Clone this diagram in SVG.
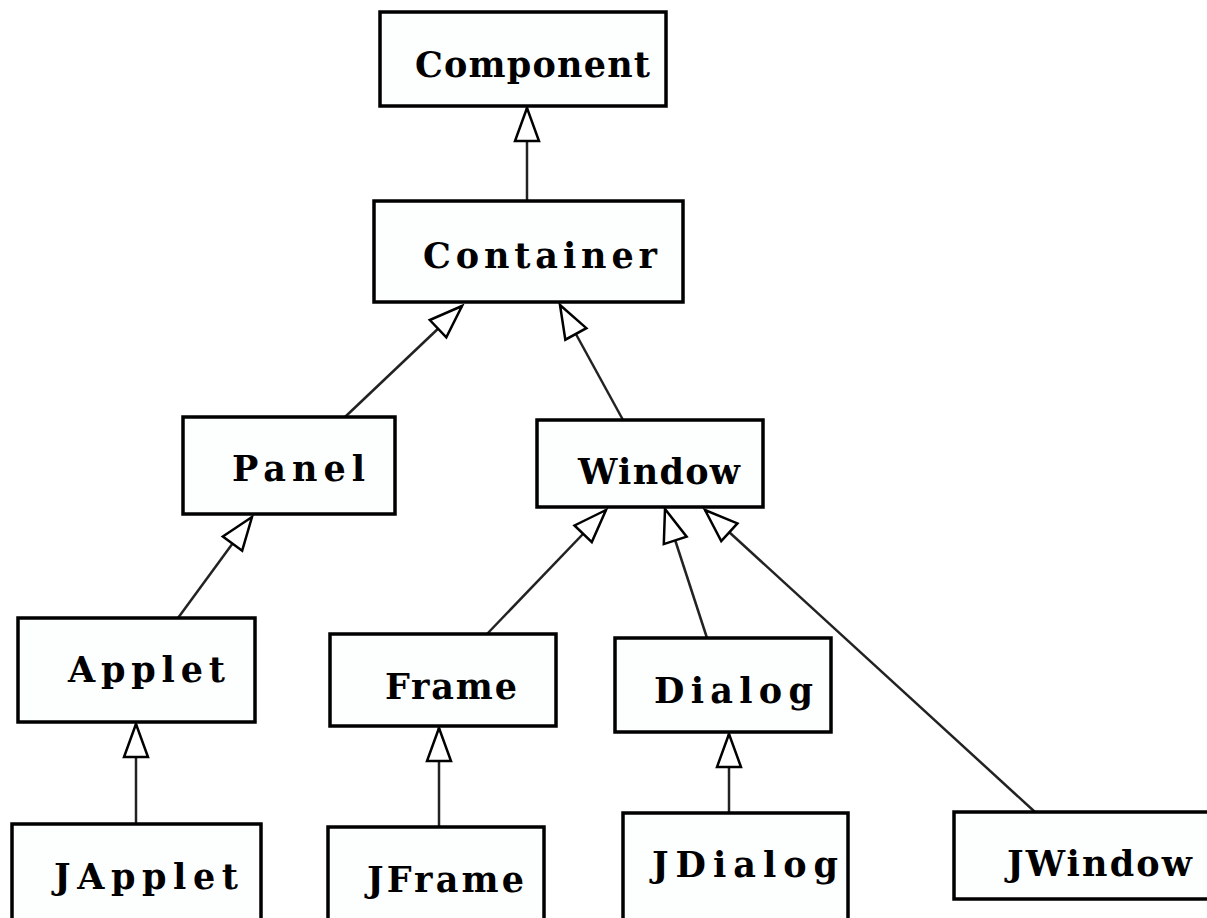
<svg xmlns="http://www.w3.org/2000/svg" width="1207" height="918" viewBox="0 0 1207 918">
<style>
.box{fill:#fdfefe;stroke:#000;stroke-width:3.5}
.lbl{font-family:"DejaVu Serif","Liberation Serif",serif;font-weight:bold;font-size:35px;fill:#000}
.edge{stroke:#222;stroke-width:2.5;fill:none;marker-end:url(#tri)}
</style>
<defs>
<marker id="tri" viewBox="0 0 38 30" markerWidth="38" markerHeight="30" refX="35" refY="15" orient="auto" markerUnits="userSpaceOnUse">
<path d="M35,15 L2,3 L2,27 Z" fill="#fff" stroke="#000" stroke-width="2.5"/>
</marker>
</defs>
<rect width="1207" height="918" fill="#fff"/>
<g id="connectors">
<line class="edge" x1="527" y1="201" x2="527" y2="108"/>
<line class="edge" x1="345" y1="417" x2="462" y2="306"/>
<line class="edge" x1="623" y1="420" x2="560" y2="305"/>
<line class="edge" x1="178" y1="618" x2="252" y2="517"/>
<line class="edge" x1="487" y1="634" x2="606" y2="510"/>
<line class="edge" x1="707" y1="638" x2="665" y2="509"/>
<line class="edge" x1="1035" y1="812" x2="705" y2="510"/>
<line class="edge" x1="136" y1="824" x2="136" y2="724"/>
<line class="edge" x1="439" y1="827" x2="439" y2="728"/>
<line class="edge" x1="729" y1="813" x2="729" y2="734"/>
</g>
<g id="Component"><rect class="box" x="380" y="12" width="286" height="94"/><text class="lbl" x="415" y="77" textLength="235" lengthAdjust="spacing">Component</text></g>
<g id="Container"><rect class="box" x="374" y="201" width="309" height="101"/><text class="lbl" x="423" y="268" textLength="234" lengthAdjust="spacing">Container</text></g>
<g id="Panel"><rect class="box" x="183" y="417" width="212" height="97"/><text class="lbl" x="232" y="481" textLength="133" lengthAdjust="spacing">Panel</text></g>
<g id="Window"><rect class="box" x="537" y="420" width="226" height="87"/><text class="lbl" x="578" y="484" textLength="162" lengthAdjust="spacing">Window</text></g>
<g id="Applet"><rect class="box" x="18" y="618" width="237" height="104"/><text class="lbl" x="68" y="682" textLength="157" lengthAdjust="spacing">Applet</text></g>
<g id="Frame"><rect class="box" x="330" y="634" width="226" height="92"/><text class="lbl" x="385" y="699" textLength="132" lengthAdjust="spacing">Frame</text></g>
<g id="Dialog"><rect class="box" x="615" y="638" width="216" height="94"/><text class="lbl" x="654" y="703" textLength="159" lengthAdjust="spacing">Dialog</text></g>
<g id="JApplet"><rect class="box" x="12" y="824" width="249" height="110"/><text class="lbl" x="54" y="889" textLength="184" lengthAdjust="spacing">JApplet</text></g>
<g id="JFrame"><rect class="box" x="328" y="827" width="216" height="110"/><text class="lbl" x="367" y="892" textLength="157" lengthAdjust="spacing">JFrame</text></g>
<g id="JDialog"><rect class="box" x="623" y="813" width="225" height="120"/><text class="lbl" x="652" y="877" textLength="186" lengthAdjust="spacing">JDialog</text></g>
<g id="JWindow"><rect class="box" x="954" y="812" width="260" height="87"/><text class="lbl" x="1007" y="876" textLength="185" lengthAdjust="spacing">JWindow</text></g>
</svg>
